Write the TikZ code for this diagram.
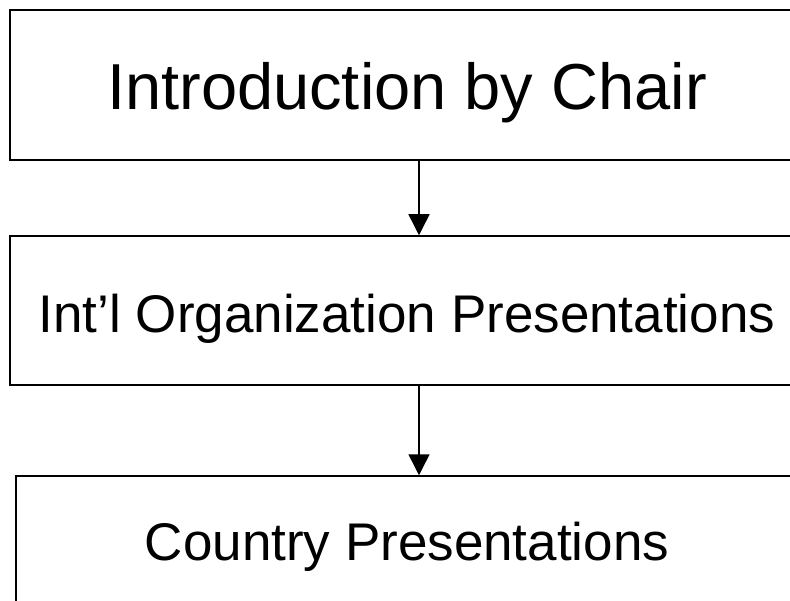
\documentclass[tikz,border=0pt]{standalone}
\usepackage{fontspec}
\setmainfont{Liberation Sans}
\usetikzlibrary{arrows.meta}
\begin{document}
\begin{tikzpicture}[x=1pt,y=-1pt,
  stage/.style={draw=black,line width=1.5pt,rectangle,inner sep=0pt,align=center,text depth=0pt},
  arr/.style={line width=1.5pt,-{Triangle[length=21pt,width=21pt]}}]
\useasboundingbox (0,0) rectangle (790,601);
\fill[white] (0,0) rectangle (790,601);
\node[stage,minimum width=794pt,minimum height=150pt,text height=50pt,font=\fontsize{65}{70}\selectfont] (b1) at (407,85) {Introduction by Chair};
\node[stage,minimum width=794pt,minimum height=149pt,text height=45pt,font=\fontsize{53}{60}\selectfont] (b2) at (407,310.5) {Int’l Organization Presentations};
\node[stage,minimum width=782pt,minimum height=150pt,text height=18pt,font=\fontsize{53}{60}\selectfont] (b3) at (407,551) {Country Presentations};
\draw[arr] ([xshift=12pt]b1.south) -- ([xshift=12pt]b2.north);
\draw[arr] ([xshift=12pt]b2.south) -- ([xshift=12pt]b3.north);
\end{tikzpicture}
\end{document}
